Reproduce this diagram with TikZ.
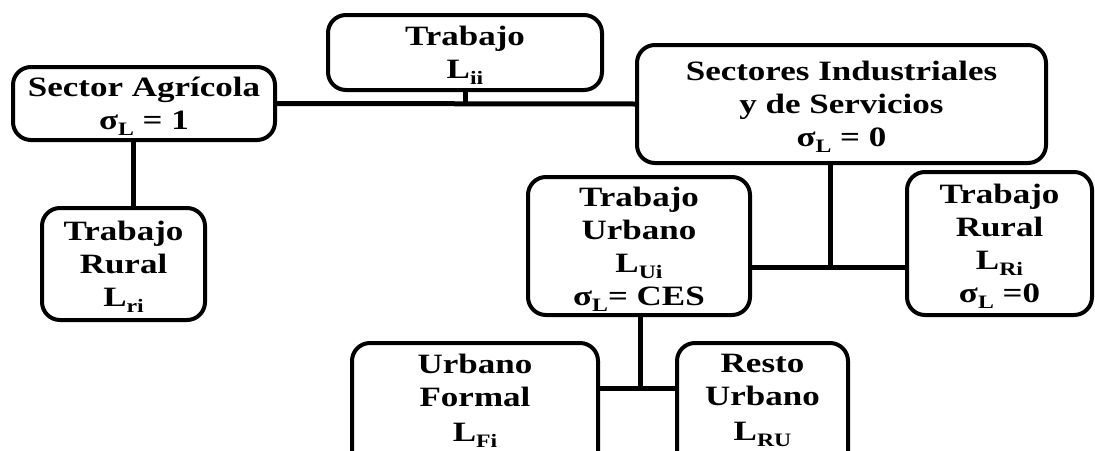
\documentclass[tikz,border=0pt]{standalone}
\usepackage{fontspec}
\setmainfont{Liberation Serif}[FakeStretch=1.25]
\newcommand{\sbs}[1]{\raisebox{-6pt}[\height][0pt]{\fontsize{19}{19}\selectfont #1}}
\tikzset{
  box/.style={draw, line width=4pt, rounded corners=18pt, fill=white, align=center,
    font=\fontsize{28}{33}\selectfont\bfseries, inner sep=0pt},
  conn/.style={line width=5pt}
}
\begin{document}
\begin{tikzpicture}[x=1pt,y=-1pt]
\useasboundingbox (0,0) rectangle (1095,450);
\clip (0,0) rectangle (1095,450);
% coordinates of junctions
\coordinate (j1) at (830,267);
\coordinate (j2) at (640,388);
% boxes
\node[box, minimum width=262pt, minimum height=73pt] (agri) at (144,103.5) {Sector Agrícola\\σ\sbs{L} = 1};
\node[box, minimum width=274pt, minimum height=75pt] (lii) at (465,52.5) {Trabajo\\L\sbs{ii}};
\node[box, minimum width=409pt, minimum height=118pt] (sect) at (841.5,104) {Sectores Industriales\\y de Servicios\\σ\sbs{L} = 0};
\node[box, minimum width=222pt, minimum height=138pt] (tu) at (639,246) {Trabajo\\Urbano\\L\sbs{Ui}\\σ\sbs{L}= CES};
\node[box, minimum width=185pt, minimum height=143pt] (trr) at (999.5,243.5) {Trabajo\\Rural\\L\sbs{Ri}\\σ\sbs{L} =0};
\node[box, minimum width=163pt, minimum height=112pt] (trl) at (123.5,264) {Trabajo\\Rural\\L\sbs{ri}};
\node[box, minimum width=246pt, minimum height=152pt] (uf) at (475,419) {Urbano\\Formal\\[2pt]L\sbs{Fi}\\ \strut};
\node[box, minimum width=171pt, minimum height=152pt] (ru) at (762.5,419) {Resto\\Urbano\\[2pt]L\sbs{RU}\\ \strut};
% connectors
\draw[conn] (agri.east) -- (sect.west);
\draw[conn] (lii.south) -- (lii.south |- agri.east);
\draw[conn] ([xshift=-11pt]agri.south) -- ([xshift=-11pt]agri.south |- trl.north);
\draw[conn] (sect.south -| j1) -- (j1);
\draw[conn] (tu.east |- j1) -- (trr.west |- j1);
\draw[conn] (tu.south -| j2) -- (j2);
\draw[conn] (uf.east |- j2) -- (ru.west |- j2);
\end{tikzpicture}
\end{document}
